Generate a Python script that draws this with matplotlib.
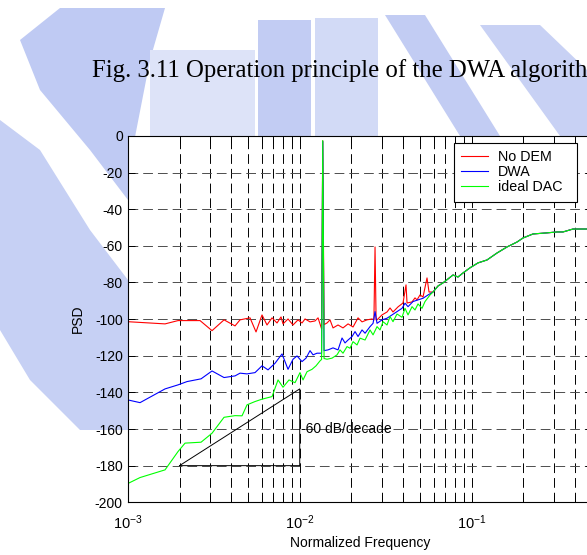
import math
import matplotlib
matplotlib.use('Agg')
import matplotlib.pyplot as plt
from matplotlib.patches import Polygon
from matplotlib.ticker import FixedLocator, FuncFormatter, LogLocator

plt.rcParams['font.family'] = ['Liberation Sans', 'DejaVu Sans']
plt.rcParams['mathtext.fontset'] = 'custom'
plt.rcParams['mathtext.rm'] = 'Liberation Sans'
plt.rcParams['axes.unicode_minus'] = False
plt.rcParams['lines.scale_dashes'] = False

# PSD data (normalized frequency, dB)
tail_f = [0.05957, 0.0637, 0.0681, 0.07786, 0.08324, 0.08899, 0.0977, 0.1088, 0.1227,
          0.1403, 0.1604, 0.1834, 0.1987, 0.2272, 0.2741, 0.3133, 0.3395, 0.3881, 0.4682, 0.5]
tail_db = [-85.2, -81.9, -80.2, -75.9, -77.0, -74.8, -72.0, -69.3, -67.7,
           -63.9, -60.6, -57.9, -55.7, -53.5, -52.9, -52.4, -52.4, -50.8, -50.8, -50.5]

nodem_f = [1.000e-3, 1.648e-3, 1.961e-3, 2.633e-3, 3.091e-3, 3.630e-3, 4.206e-3, 4.497e-3,
           5.141e-3, 5.571e-3, 6.036e-3, 6.454e-3, 6.902e-3, 7.380e-3, 7.786e-3, 7.997e-3,
           8.551e-3, 9.141e-3, 9.775e-3, 10.31e-3, 10.74e-3, 11.48e-3, 12.27e-3, 12.78e-3,
           13.40e-3, 13.61e-3, 13.85e-3, 14.41e-3, 15.00e-3, 15.62e-3, 16.70e-3, 17.85e-3,
           19.10e-3, 20.42e-3, 21.83e-3, 23.03e-3, 24.62e-3, 26.33e-3, 27.00e-3, 27.41e-3,
           27.80e-3, 28.15e-3, 30.10e-3, 32.18e-3, 33.50e-3, 34.87e-3, 37.29e-3, 39.86e-3,
           41.50e-3, 42.06e-3, 44.97e-3, 46.81e-3, 48.08e-3, 50.05e-3, 52.11e-3, 54.97e-3,
           56.46e-3]
nodem_db = [-101.4, -102.6, -100.8, -100.8, -106.3, -100.4, -103.7, -100.4,
            -99.3, -107.0, -97.7, -103.2, -99.3, -102.1, -98.8, -102.6,
            -99.9, -103.2, -100.4, -102.1, -99.9, -101.5, -101.0, -99.3,
            -105.3, -2.7, -103.0, -102.1, -100.4, -104.8, -103.2, -104.8,
            -102.6, -104.3, -99.3, -101.5, -100.4, -99.9, -100.5, -60.6,
            -100.4, -100.4, -97.7, -96.1, -93.9, -96.1, -93.3, -91.2,
            -81.3, -91.2, -90.6, -88.4, -89.5, -86.8, -87.9, -77.5,
            -85.2]

dwa_f = [1.000e-3, 1.179e-3, 1.648e-3, 1.961e-3, 2.212e-3, 2.669e-3, 3.091e-3, 3.630e-3,
         4.206e-3, 4.497e-3, 4.939e-3, 5.497e-3, 6.036e-3, 6.541e-3, 7.185e-3, 7.891e-3,
         8.214e-3, 8.551e-3, 9.141e-3, 9.645e-3, 10.31e-3, 10.88e-3, 11.48e-3, 11.95e-3,
         12.61e-3, 13.40e-3, 13.61e-3, 13.85e-3, 14.60e-3, 15.62e-3, 16.70e-3, 17.62e-3,
         18.34e-3, 19.10e-3, 20.15e-3, 20.97e-3, 21.83e-3, 23.03e-3, 23.98e-3, 25.63e-3,
         26.69e-3, 27.41e-3, 28.15e-3, 30.10e-3, 32.18e-3, 34.41e-3, 36.79e-3, 39.33e-3,
         40.95e-3, 42.63e-3, 45.57e-3, 48.73e-3, 52.11e-3, 55.71e-3]
dwa_db = [-144.1, -145.6, -138.1, -135.9, -134.1, -132.6, -128.3, -131.9,
          -131.0, -129.5, -129.9, -129.2, -125.5, -127.7, -124.1, -119.0,
          -123.2, -127.4, -121.9, -120.1, -123.2, -121.3, -117.2, -119.5,
          -118.6, -118.6, -3.0, -117.2, -116.8, -115.7, -116.8, -110.3,
          -113.0, -111.4, -109.5, -106.8, -109.5, -105.9, -107.7, -104.1,
          -102.3, -95.9, -102.3, -100.4, -99.5, -97.7, -95.9, -94.1,
          -91.3, -93.2, -90.4, -89.5, -88.6, -86.8]

ideal_f = [1.000e-3, 1.179e-3, 1.648e-3, 1.961e-3, 2.154e-3, 2.669e-3, 3.091e-3, 3.630e-3,
           4.206e-3, 4.619e-3, 4.939e-3, 5.497e-3, 6.036e-3, 6.902e-3, 7.479e-3, 7.997e-3,
           8.666e-3, 9.391e-3, 10.04e-3, 10.45e-3, 11.03e-3, 11.79e-3, 12.44e-3, 13.12e-3,
           13.40e-3, 13.61e-3, 13.85e-3, 14.41e-3, 15.41e-3, 16.48e-3, 17.15e-3, 17.85e-3,
           18.84e-3, 19.61e-3, 20.42e-3, 21.54e-3, 22.42e-3, 23.98e-3, 25.63e-3, 26.69e-3,
           28.15e-3, 29.31e-3, 30.51e-3, 32.18e-3, 33.50e-3, 34.87e-3, 36.79e-3, 39.33e-3,
           40.95e-3, 42.63e-3, 44.97e-3, 46.81e-3, 48.73e-3, 51.41e-3, 53.52e-3, 57.24e-3]
ideal_db = [-189.8, -186.5, -182.3, -172.3, -167.7, -167.2, -162.3, -153.6,
            -152.7, -152.8, -146.8, -145.0, -143.7, -142.3, -133.2, -137.2,
            -133.2, -134.7, -129.2, -133.2, -128.7, -127.4, -125.5, -122.8,
            -122.0, -2.5, -121.5, -121.9, -121.3, -119.5, -116.8, -118.6,
            -115.0, -115.9, -112.3, -114.1, -110.4, -111.4, -105.9, -108.6,
            -104.1, -105.9, -101.4, -103.2, -98.6, -101.4, -97.2, -99.0,
            -94.1, -97.7, -93.2, -95.0, -91.7, -94.1, -90.4, -86.8]

# 60 dB/decade reference triangle
tri_f = [2e-3, 1e-2, 1e-2, 2e-3]
tri_db = [-180, -180, -138.1, -180]

W, H = 587, 555
fig = plt.figure(figsize=(W/100, H/100), dpi=100)

# faint watermark blocks behind the page (pixel outlines, y down)
wm_shapes = [
    ([(60, 8), (165, 8), (150, 60), (135, 137), (128, 200), (90, 150), (40, 90), (20, 40)], '#bfcaf3'),
    ([(0, 120), (40, 150), (90, 230), (128, 280), (128, 430), (80, 430), (30, 380), (0, 330)], '#c6d0f4'),
    ([(150, 50), (255, 50), (255, 136), (150, 136)], '#dde3f8'),
    ([(258, 20), (311, 20), (311, 136), (258, 136)], '#c2ccf3'),
    ([(315, 18), (378, 18), (378, 136), (315, 136)], '#d2daf6'),
    ([(385, 15), (425, 15), (500, 136), (460, 136)], '#c2ccf3'),
    ([(480, 25), (540, 25), (587, 70), (587, 136), (560, 136)], '#c8d1f4'),
]
for pts, col in wm_shapes:
    fig.patches.append(Polygon([(x/W, 1-y/H) for x, y in pts], closed=True,
                               transform=fig.transFigure, facecolor=col,
                               edgecolor='none', zorder=-5))

fig.text(92/W, 1-76.7/H, 'Fig. 3.11 Operation principle of the DWA algorith',
         fontfamily='Liberation Serif', fontsize=17.8, va='baseline', ha='left')

ax = fig.add_axes([0.2176, 0.0950, 0.7908, 0.6600])
ax.set_xscale('log')

ax.plot(nodem_f + tail_f, nodem_db + tail_db, color='#ff0000', lw=0.8, label='No DEM')
ax.plot(dwa_f + tail_f, dwa_db + tail_db, color='#0000ff', lw=0.8, label='DWA')
ax.plot(ideal_f + tail_f, ideal_db + tail_db, color='#00ff00', lw=0.8, label='ideal DAC')
ax.plot(tri_f, tri_db, color='k', lw=0.7)
ax.text(1.02e-2, -160, '-60 dB/decade', fontsize=10, va='center', ha='left')

ax.set_xlim(1e-3, 0.5)
ax.set_ylim(-200, 0)
ax.yaxis.set_major_locator(FixedLocator(list(range(-200, 1, 20))))
ax.yaxis.set_major_formatter(FuncFormatter(lambda v, p: '%d' % v))
ax.xaxis.set_major_locator(FixedLocator([1e-3, 1e-2, 1e-1]))
ax.xaxis.set_major_formatter(FuncFormatter(lambda v, p: r'$\mathregular{10^{%d}}$' % round(math.log10(v))))
ax.xaxis.set_minor_locator(LogLocator(base=10, subs=range(2, 10)))
ax.tick_params(which='both', direction='in', top=True, right=True, labelsize=10, width=0.7, length=5)
ax.tick_params(axis='x', which='major', pad=8, labelsize=10.5)
for s in ax.spines.values():
    s.set_linewidth(0.8)

ax.xaxis.grid(True, which='both', color='k', lw=0.7, linestyle=(0, (7, 3.6)))
ax.yaxis.grid(True, which='major', color='0.3', lw=0.7, linestyle=(0, (7, 3.6)))
ax.set_axisbelow(True)

ax.set_xlabel('Normalized Frequency', fontsize=10, labelpad=3)
ax.set_ylabel('PSD', fontsize=10, labelpad=7)

leg = ax.legend(loc='upper right', bbox_to_anchor=(454/W, 1-198/H, 123/W, 55/H),
                bbox_transform=fig.transFigure, mode='expand', borderaxespad=0,
                fontsize=10.3, fancybox=False, framealpha=1, edgecolor='k',
                handlelength=1.85, handletextpad=0.7, labelspacing=0.08, borderpad=0.5)
leg.get_frame().set_linewidth(0.8)

fig.savefig('out.png', dpi=100)
